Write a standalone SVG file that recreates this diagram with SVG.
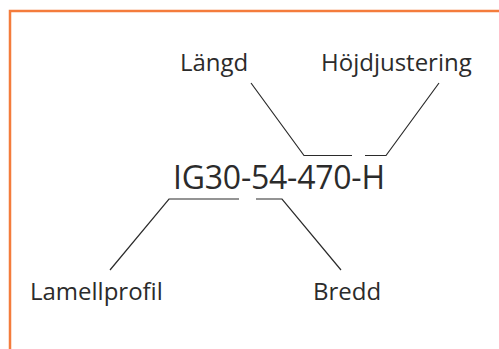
<svg xmlns="http://www.w3.org/2000/svg" width="499" height="349" viewBox="0 0 499 349">
<style>
text{font-family:"Open Sans","Noto Sans",sans-serif;fill:#2b2b2b}
.lbl{font-size:24px}
.main{font-size:32px}
.c{fill:none;stroke:#2b2b2b;stroke-width:1.2}
</style>
<rect x="0" y="0" width="499" height="349" fill="#fff"/>
<path d="M10,360 V11 H510" fill="none" stroke="#f47c3c" stroke-width="2.5"/>
<g id="code"><text class="main" x="173" y="189" textLength="212">IG30-54-470-H</text></g>
<g id="langd"><text class="lbl" x="180" y="71">Längd</text></g>
<g id="hojd"><text class="lbl" x="321" y="71">Höjdjustering</text></g>
<g id="lamell"><text class="lbl" x="30" y="300">Lamellprofil</text></g>
<g id="bredd"><text class="lbl" x="313" y="300">Bredd</text></g>
<g id="connectors">
<polyline class="c" points="251,83 304,155.5 352,155.5"/>
<polyline class="c" points="439,83 386,155.5 365,155.5"/>
<polyline class="c" points="110,270 169,199 239,199"/>
<polyline class="c" points="341,270 282,199 256,199"/>
</g>
</svg>
